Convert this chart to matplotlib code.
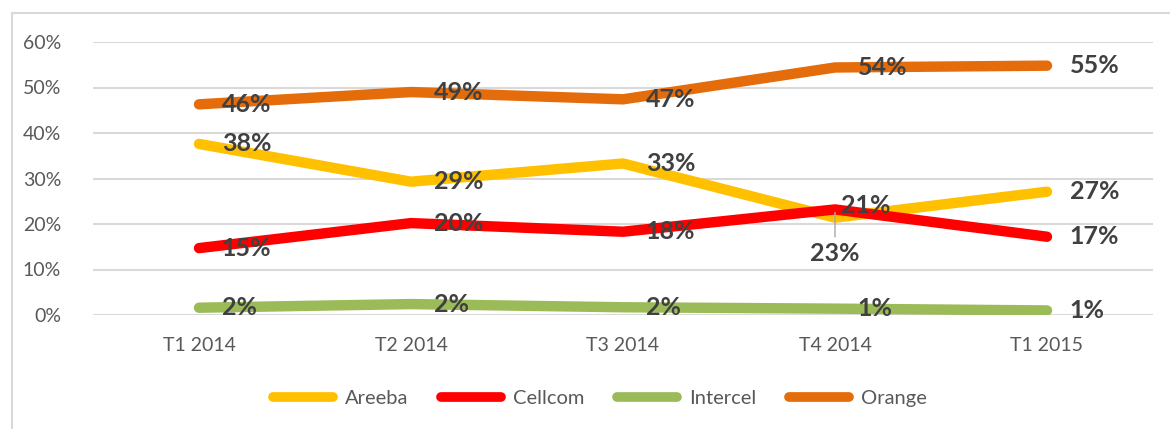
import matplotlib
matplotlib.use('Agg')
from matplotlib import pyplot as plt
from matplotlib.patches import Rectangle

plt.rcParams['font.family'] = ['Lato', 'DejaVu Sans']

trimestres = ['T1 2014', 'T2 2014', 'T3 2014', 'T4 2014', 'T1 2015']
areeba = [37.6, 29.3, 33.3, 21.4, 27.1]
cellcom = [14.7, 20.2, 18.3, 23.2, 17.2]
intercel = [1.6, 2.4, 1.7, 1.4, 1.0]
orange = [46.3, 49.0, 47.4, 54.4, 54.8]

series = [('Areeba', areeba, '#ffc000'),
          ('Cellcom', cellcom, '#ff0000'),
          ('Intercel', intercel, '#9bbb59'),
          ('Orange', orange, '#e46c0a')]

# labels that Excel moved away from the default right position
decalages = {('Areeba', 3): (4, 9, 'left'),
             ('Cellcom', 3): (0, -32, 'center')}

fig = plt.figure(figsize=(11.7, 4.29), dpi=100)
fig.patches.append(Rectangle((12 / 1170, -0.1), 1.2, (429 - 13) / 429 + 0.1,
                             transform=fig.transFigure, fill=False,
                             edgecolor='#d9d9d9', linewidth=1.5))
ax = fig.add_axes([93 / 1170, (429 - 315) / 429, 1060 / 1170, 273 / 429])

x = list(range(len(trimestres)))
for nom, valeurs, couleur in series:
    ax.plot(x, valeurs, color=couleur, linewidth=7.5, solid_capstyle='round',
            solid_joinstyle='round', label=nom, zorder=3)

for nom, valeurs, couleur in series:
    for i, v in enumerate(valeurs):
        dx, dy, ha = decalages.get((nom, i), (16.5, 0, 'left'))
        props = None
        if (nom, i) == ('Cellcom', 3):
            props = dict(arrowstyle='-', color='#a6a6a6', lw=1)
        ax.annotate(f'{round(v)}%', (i, v), xytext=(dx, dy),
                    textcoords='offset points', ha=ha, va='center',
                    fontsize=18, fontweight='bold', color='#404040',
                    arrowprops=props, zorder=4)

ax.set_xlim(-0.5, len(trimestres) - 0.5)
ax.set_ylim(0, 60)
ax.set_yticks(range(0, 61, 10))
ax.set_yticklabels([f'{t}%' for t in range(0, 61, 10)])
ax.set_xticks(x)
ax.set_xticklabels(trimestres)
ax.tick_params(axis='both', length=0, labelsize=14, labelcolor='#595959')
ax.tick_params(axis='y', pad=23)
ax.tick_params(axis='x', pad=16)
ax.grid(axis='y', color='#d9d9d9', linewidth=1.5, zorder=0)
ax.set_axisbelow(True)
for s in ax.spines.values():
    s.set_visible(False)

leg = fig.legend(loc='center', bbox_to_anchor=(600 / 1170, (429 - 398) / 429),
                 ncol=4, frameon=False, fontsize=14.5, handlelength=3.0,
                 handletextpad=0.6, columnspacing=1.6)
for t in leg.get_texts():
    t.set_color('#595959')
for h in leg.get_lines():
    h.set_linewidth(7)
    h.set_solid_capstyle('round')

fig.savefig('out.png', dpi=100)
